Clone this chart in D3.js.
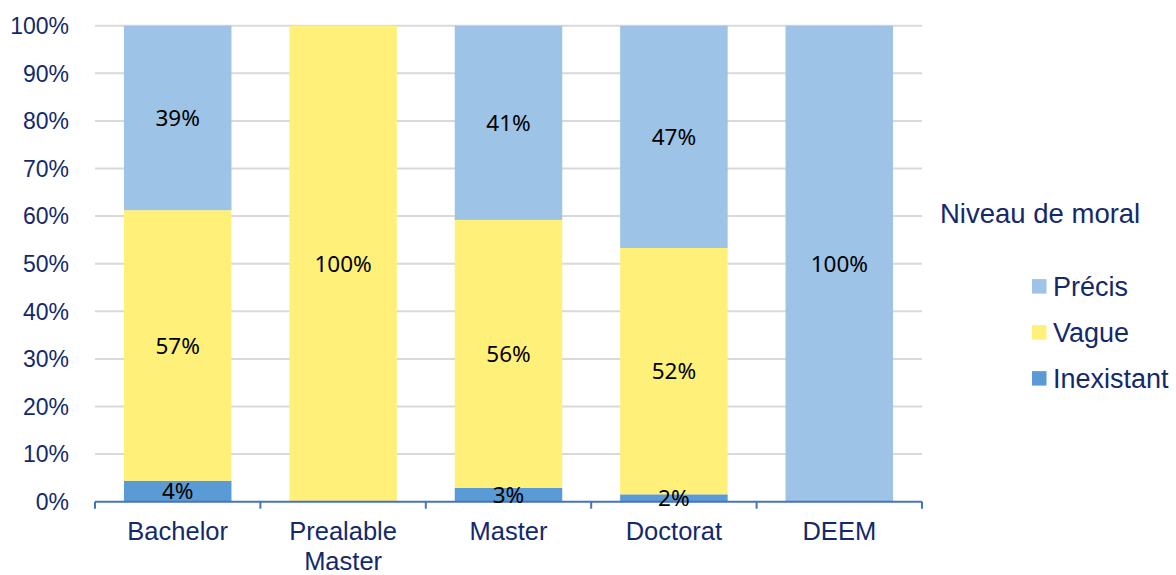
<!DOCTYPE html>
<html><head><meta charset="utf-8">
<script src="https://cdn.jsdelivr.net/npm/d3@7"></script>
<style>body{margin:0;background:#fff}svg{display:block}</style>
</head><body>
<svg id="chart" width="1176" height="575"></svg>
<script>
const categories = ["Bachelor", "Prealable\nMaster", "Master", "Doctorat", "DEEM"];
const inexistant = [4.4, 0, 2.9, 1.55, 0];
const vague = [56.85, 100, 56.3, 51.75, 0];
const precis = [38.75, 0, 40.8, 46.7, 100];
const seriesNames = ["Inexistant", "Vague", "Précis"];
const seriesColors = ["#5B9BD5", "#FFF07A", "#9DC3E6"];
const yTicks = [0, 10, 20, 30, 40, 50, 60, 70, 80, 90, 100];
const legendTitle = "Niveau de moral";

const svg = d3.select("#chart");
const navy = "#13296B";
const x = d3.scaleBand().domain(categories).range([95, 922]).paddingInner(0.35).paddingOuter(0.175);
const y = d3.scaleLinear().domain([0, 100]).range([501.7, 25.7]);

// gridlines
svg.append("g").selectAll("line").data(yTicks.filter(d => d > 0)).join("line")
  .attr("x1", 95).attr("x2", 922).attr("y1", d => y(d)).attr("y2", d => y(d))
  .attr("stroke", "#D9D9D9").attr("stroke-width", 2);

const rows = categories.map((c, i) => ({cat: c, Inexistant: inexistant[i], Vague: vague[i], "Précis": precis[i]}));
const stack = d3.stack().keys(seriesNames)(rows);

const g = svg.append("g");
stack.forEach((s, si) => {
  g.append("g").selectAll("rect").data(s).join("rect")
    .attr("x", d => x(d.data.cat)).attr("width", x.bandwidth())
    .attr("y", d => y(d[1])).attr("height", d => y(d[0]) - y(d[1]))
    .attr("fill", seriesColors[si]);
});

// y axis labels
svg.append("g").selectAll("text").data(yTicks).join("text")
  .attr("x", 69).attr("y", d => y(d)).attr("dy", "0.36em")
  .attr("text-anchor", "end").attr("fill", navy)
  .style("font-family", "Liberation Sans, Arial, sans-serif").style("font-size", "23px")
  .text(d => d + "%");

// x axis
const xAxis = svg.append("g").attr("transform", "translate(0,501.7)");
xAxis.append("line").attr("x1", 95).attr("x2", 922).attr("stroke", "#4472C4").attr("stroke-width", 2);
const bounds = categories.map(c => x(c) - x.step() * 0.175).concat([922]);
xAxis.selectAll("line.tick").data(bounds).join("line").attr("class", "tick")
  .attr("x1", d => d).attr("x2", d => d).attr("y1", 0).attr("y2", 7)
  .attr("stroke", "#4472C4").attr("stroke-width", 2);
const xl = svg.append("g").selectAll("text").data(categories).join("text")
  .attr("x", d => x(d) + x.bandwidth() / 2).attr("y", 540.3)
  .attr("text-anchor", "middle").attr("fill", navy)
  .style("font-family", "Liberation Sans, Arial, sans-serif").style("font-size", "25.5px");
xl.each(function(d) {
  const lines = d.split("\n");
  d3.select(this).selectAll("tspan").data(lines).join("tspan")
    .attr("x", x(d) + x.bandwidth() / 2).attr("dy", (l, i) => i === 0 ? 0 : 29.4).text(l => l);
});

// data labels
stack.forEach((s, si) => {
  svg.append("g").selectAll("text").data(s.filter(d => d[1] - d[0] > 0)).join("text")
    .attr("x", d => x(d.data.cat) + x.bandwidth() / 2)
    .attr("y", d => (y(d[0]) + y(d[1])) / 2).attr("dy", "0.36em")
    .attr("text-anchor", "middle").attr("fill", "#000")
    .style("font-family", "Noto Sans, sans-serif").style("font-size", "22.5px")
    .text(d => Math.round(d[1] - d[0]) + "%");
});

// legend
const lg = svg.append("g");
lg.append("text").attr("x", 940).attr("y", 222.7).attr("fill", navy)
  .style("font-family", "Liberation Sans, Arial, sans-serif").style("font-size", "27.5px").text(legendTitle);
const legendOrder = ["Précis", "Vague", "Inexistant"];
legendOrder.forEach((n, i) => {
  const cy = 286.3 + i * 46;
  lg.append("rect").attr("x", 1032).attr("y", cy - 7.2).attr("width", 14.5).attr("height", 14.5)
    .attr("fill", seriesColors[seriesNames.indexOf(n)]);
  lg.append("text").attr("x", 1053).attr("y", cy).attr("dy", "0.36em").attr("fill", navy)
    .style("font-family", "Liberation Sans, Arial, sans-serif").style("font-size", "27px").text(n);
});
</script>
</body></html>
